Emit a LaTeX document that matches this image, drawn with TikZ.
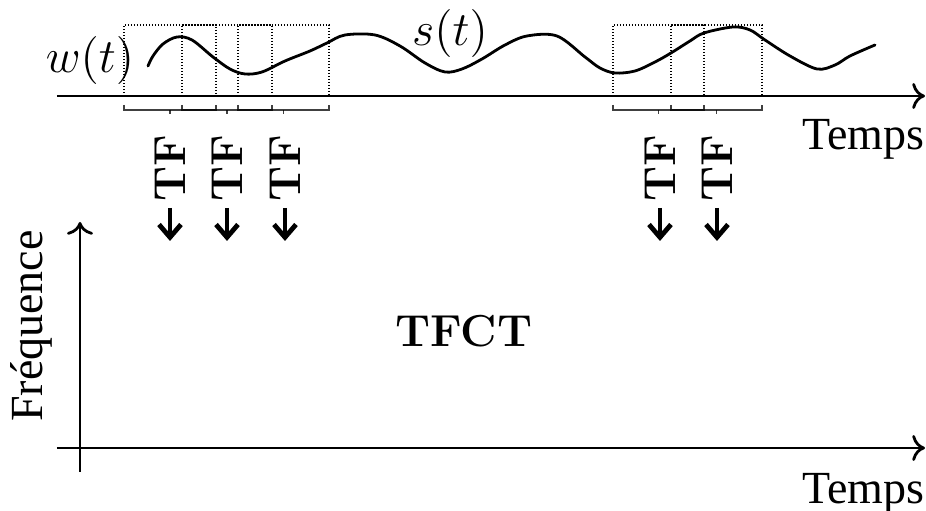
\documentclass[tikz,border=0pt]{standalone}
\usepackage{fontspec}
\newfontfamily\timesfont{Liberation Serif}
\usetikzlibrary{arrows.meta}
\begin{document}
\begin{tikzpicture}[x=0.25pt,y=-0.25pt,
  axis/.style={line width=0.7pt,-{To[length=3.2pt,width=6.5pt]}},
  win/.style={draw,line width=0.3pt,dash pattern=on 0.3pt off 0.45pt},
  brk/.style={line width=0.45pt,draw opacity=0.75},
  sig/.style={line width=0.7pt,line join=round,line cap=round},
  tf/.style={rotate=90,font=\fontsize{11.2}{13}\selectfont\bfseries,inner sep=0pt},
  down/.style={line width=1.2pt,-{Straight Barb[length=3.2pt,width=5.5pt]}},
  lbl/.style={font=\fontsize{11.5}{13}\selectfont\timesfont,inner sep=0pt},
  mlbl/.style={font=\fontsize{11.8}{14}\selectfont,inner sep=0pt}]
\useasboundingbox (0,0) rectangle (926,511);
% axes
\coordinate (a0) at (57,96); \coordinate (a1) at (925,96);
\coordinate (b0) at (57,448); \coordinate (b1) at (925,448);
\coordinate (v0) at (80,472); \coordinate (v1) at (80,222);
\draw[axis] (a0) -- (a1);
\draw[axis] (b0) -- (b1);
\draw[axis] (v0) -- (v1);
% windows
\foreach \l/\r in {124/216,182/272,238/329,613/704,671/762}{
  \draw[win] (\l,96) -- (\l,25) -- (\r,25) -- (\r,96);
  \draw[brk] (\l,105) -- (\l,110) -- (\r,110) -- (\r,105);
  \draw[brk] ({(\l+\r)/2},110) -- ({(\l+\r)/2},114);
}
% signal
\draw[sig] plot[smooth,tension=0.55] coordinates {
 (148,66) (153,56) (163,44) (177,37) (192,40) (213,57) (230,69) (245,74)
 (262,72) (285,61) (310,51) (327,43) (345,35) (375,35) (400,46) (425,63)
 (445,72) (462,69) (482,59) (505,45) (527,36) (557,36) (585,57) (600,68)
 (615,73) (635,71) (655,62) (671,53) (690,41) (704,33) (733,27) (750,30)
 (765,40) (790,56) (817,69) (835,65) (850,56) (875,45)};
% labels
\node[mlbl] (w) at (90,61) {$w(t)$};
\node[mlbl] (s) at (450,34) {$s(t)$};
\node[lbl,anchor=base east] (t1) at (925,150) {Temps};
\node[lbl,anchor=base east] (t2) at (925,504) {Temps};
\node[lbl,rotate=90,anchor=base] (f) at (43,326) {Fréquence};
\node[font=\fontsize{11.2}{13}\selectfont\bfseries,inner sep=0pt] (tfct) at (464,331) {TFCT};
% TF columns
\foreach \x/\n in {170/1,227/2,285/3,660/4,717/5}{
  \node[tf] (tf\n) at (\x,168) {TF};
  \coordinate (e\n) at (\x,241);
  \draw[down] (tf\n.west |- 0,208) -- (e\n);
}
\end{tikzpicture}
\end{document}
